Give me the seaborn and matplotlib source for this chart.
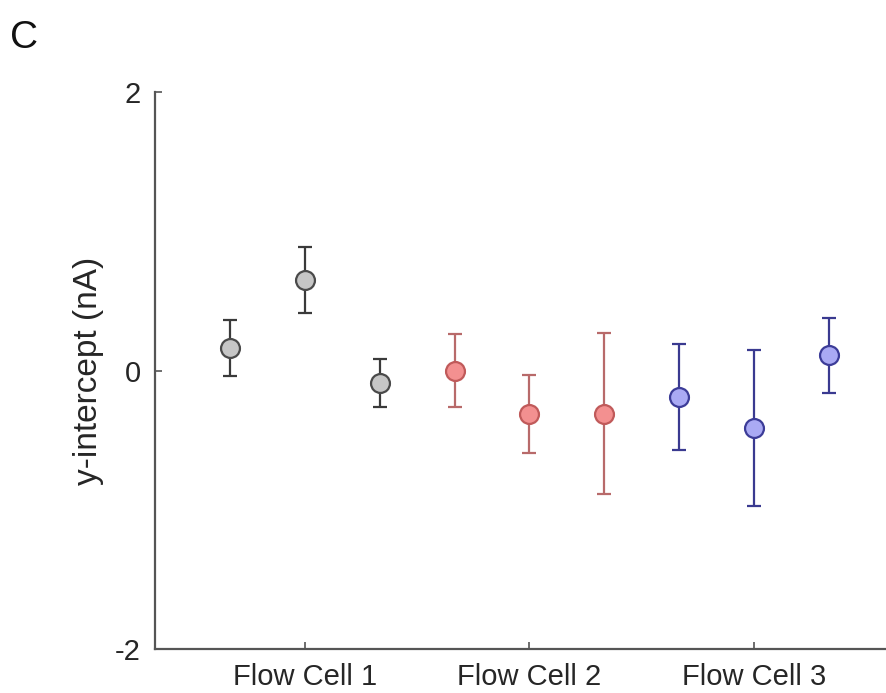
import matplotlib
matplotlib.use("Agg")
import matplotlib.pyplot as plt
import seaborn as sns
import pandas as pd

# Three replicate runs per flow cell
groups = ["Flow Cell 1"] * 3 + ["Flow Cell 2"] * 3 + ["Flow Cell 3"] * 3
run_index = [1, 2, 3, 4, 5, 6, 7, 8, 9]
intercept = [0.16, 0.65, -0.09, 0.00, -0.31, -0.31, -0.19, -0.41, 0.11]
intercept_err = [0.20, 0.24, 0.17, 0.26, 0.28, 0.58, 0.38, 0.56, 0.27]

tick_positions = [2, 5, 8]
tick_labels = ["Flow Cell 1", "Flow Cell 2", "Flow Cell 3"]

fill_colors = {"Flow Cell 1": "#c6c6c6", "Flow Cell 2": "#f39090", "Flow Cell 3": "#aaaaf4"}
edge_colors = {"Flow Cell 1": "#4a4a4a", "Flow Cell 2": "#c05a5a", "Flow Cell 3": "#3c3c98"}
bar_colors = {"Flow Cell 1": "#3a3a3a", "Flow Cell 2": "#b86a6a", "Flow Cell 3": "#3a3a90"}

df = pd.DataFrame({"group": groups, "run": run_index,
                   "intercept": intercept, "err": intercept_err})

sns.set_style("white")
plt.rcParams["font.family"] = ["Liberation Sans", "DejaVu Sans"]

fig = plt.figure(figsize=(8.87, 6.93), dpi=100)
ax = fig.add_axes([155 / 887, 1 - 649 / 693, (904 - 155) / 887, (649 - 92) / 693])

for g, sub in df.groupby("group"):
    ax.errorbar(sub["run"], sub["intercept"], yerr=sub["err"], fmt="none",
                ecolor=bar_colors[g], elinewidth=1.6, capsize=4.7, capthick=1.6, zorder=2)

for g, sub in df.groupby("group"):
    sns.scatterplot(data=sub, x="run", y="intercept", ax=ax, s=185,
                    color=fill_colors[g], edgecolor=edge_colors[g], linewidth=1.6,
                    zorder=3, legend=False)

ax.set_xlim(0, 10)
ax.set_ylim(-2, 2)
ax.set_yticks([-2, 0, 2])
ax.set_yticklabels(["-2", "0", "2"])
ax.set_xticks(tick_positions)
ax.set_xticklabels(tick_labels)
ax.set_xlabel("")
ax.set_ylabel("y-intercept (nA)", fontsize=24, labelpad=8, color="#262626")

for side in ["top", "right"]:
    ax.spines[side].set_visible(False)
for side in ["left", "bottom"]:
    ax.spines[side].set_color("#555555")
    ax.spines[side].set_linewidth(1.6)

ax.tick_params(axis="both", direction="in", length=5, width=1.2, color="#555555",
               labelsize=21, labelcolor="#262626", bottom=True, left=True)
ax.tick_params(axis="y", pad=10)
ax.tick_params(axis="x", pad=10)

fig.text(10 / 887, 1 - 38 / 693, "C", fontsize=28, va="center", ha="left", color="#111111")

fig.savefig("out.png", dpi=100, facecolor="white")
